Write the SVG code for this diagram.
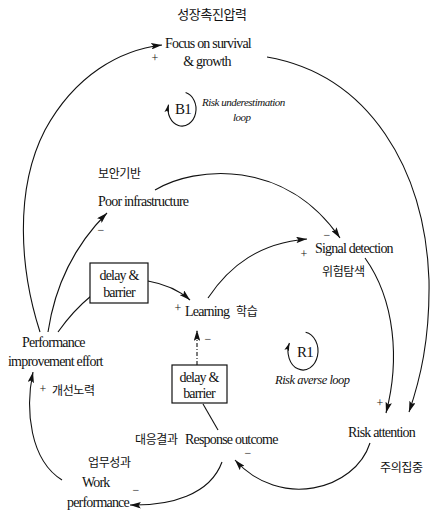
<svg xmlns="http://www.w3.org/2000/svg" width="430" height="510" viewBox="0 0 430 510">
  <defs>
    <marker id="arrow" viewBox="0 0 10 6" refX="10" refY="3" markerWidth="11" markerHeight="6.5" markerUnits="userSpaceOnUse" orient="auto">
      <path d="M0,0 L10,3 L0,6 L2,3 Z" fill="#111"/>
    </marker>
    <marker id="arrow-small" viewBox="0 0 10 6" refX="10" refY="3" markerWidth="8" markerHeight="5" markerUnits="userSpaceOnUse" orient="auto">
      <path d="M0,0 L10,3 L0,6 L2,3 Z" fill="#111"/>
    </marker>
  </defs>
  <style>
    text { fill: #111; }
    .en { font-family: "Liberation Serif", "Times New Roman", serif; font-size: 14px; letter-spacing: -0.8px; }
    .loop { font-family: "Liberation Serif", "Times New Roman", serif; font-style: italic; letter-spacing: -0.5px; }
    .ko { font-family: "Noto Sans CJK KR", "Noto Sans", sans-serif; font-size: 12px; letter-spacing: -0.4px; }
    .sign { font-family: "Liberation Serif", "Times New Roman", serif; font-size: 12px; }
    .mid { text-anchor: middle; }
    .link { fill: none; stroke: #111; stroke-width: 1.1; }
    .dashed { stroke-dasharray: 4 2 1 2; }
    .box { fill: #fff; stroke: #111; stroke-width: 1.2; }
  </style>

  <rect width="430" height="510" fill="#fff"/>

  <!-- causal links -->
  <g id="connectors">
    <!-- Performance improvement effort -> Focus on survival & growth -->
    <path class="link" d="M40,332 C20,270 14,190 45,130 C75,75 120,50 162,45" marker-end="url(#arrow)"/>
    <!-- Performance improvement effort -> Poor infrastructure -->
    <path class="link" d="M48,332 C55,285 75,245 107,213" marker-end="url(#arrow)"/>
    <!-- Performance improvement effort -> delay & barrier -->
    <path class="link" d="M58,332 C70,315 80,305 91,296"/>
    <!-- delay & barrier -> Learning -->
    <path class="link" d="M148,281 C165,284 180,291 190,300" marker-end="url(#arrow)"/>
    <!-- Learning -> Signal detection -->
    <path class="link" d="M208,298 C230,265 260,243 307,239" marker-end="url(#arrow)"/>
    <!-- Poor infrastructure -> Signal detection -->
    <path class="link" d="M155,190 C195,166 285,158 340,238" marker-end="url(#arrow)"/>
    <!-- Signal detection -> Risk attention -->
    <path class="link" d="M365,258 C395,300 400,360 386,413" marker-end="url(#arrow)"/>
    <!-- Focus on survival & growth -> Risk attention -->
    <path class="link" d="M267,57 C370,75 425,170 429,280 C430,340 420,380 409,412" marker-end="url(#arrow)"/>
    <!-- Risk attention -> Response outcome -->
    <path class="link" d="M370,443 C355,490 280,510 235,460" marker-end="url(#arrow)"/>
    <!-- Response outcome -> Work performance -->
    <path class="link" d="M222,462 C210,495 170,506 130,505" marker-end="url(#arrow)"/>
    <!-- Work performance -> Performance improvement effort -->
    <path class="link" d="M62,480 C30,460 25,410 33,372" marker-end="url(#arrow)"/>
    <!-- Response outcome -> delay & barrier -->
    <path class="link" d="M218,430 L203,404"/>
    <!-- delay & barrier -> Learning (dashed) -->
    <path class="link dashed" d="M197,365 L197,330" marker-end="url(#arrow)"/>

    <!-- polarity signs -->
    <text class="sign mid" x="155" y="62">+</text>
    <text class="sign mid" x="101" y="234">−</text>
    <text class="sign mid" x="304" y="258">+</text>
    <text class="sign mid" x="327" y="239">−</text>
    <text class="sign mid" x="178" y="312">+</text>
    <text class="sign mid" x="208" y="343">−</text>
    <text class="sign mid" x="380" y="407">+</text>
    <text class="sign mid" x="248" y="457">−</text>
    <text class="sign mid" x="136" y="494">−</text>
    <text class="sign mid" x="43" y="393">+</text>
  </g>

  <g id="focus">
    <text class="ko mid" x="212" y="19" style="font-size:13px">성장촉진압력</text>
    <text class="en" x="165" y="48">Focus on survival</text>
    <text class="en mid" x="207" y="66">&amp; growth</text>
  </g>

  <g id="loop-b1">
    <path class="link" d="M185.6,92.6 A14,17 0 1 1 168.5,104.6" marker-end="url(#arrow-small)"/>
    <text class="en mid" x="183" y="114" style="font-size:15px">B1</text>
    <text class="loop" x="202" y="106" style="font-size:11px">Risk underestimation</text>
    <text class="loop" x="233" y="121" style="font-size:11px">loop</text>
  </g>

  <g id="poor-infrastructure">
    <text class="ko" x="98" y="178">보안기반</text>
    <text class="en" x="98" y="206">Poor infrastructure</text>
  </g>

  <g id="signal-detection">
    <text class="en" x="315" y="253">Signal detection</text>
    <text class="ko" x="322" y="276">위험탐색</text>
  </g>

  <g id="delay-barrier-1">
    <rect class="box" x="90" y="263" width="58" height="40"/>
    <text class="en mid" x="119" y="280">delay &amp;</text>
    <text class="en mid" x="119" y="297">barrier</text>
  </g>

  <g id="learning">
    <text class="en" x="185" y="316">Learning</text>
    <text class="ko" x="236" y="316">학습</text>
  </g>

  <g id="delay-barrier-2">
    <rect class="box" x="172" y="365" width="55" height="38"/>
    <text class="en mid" x="199" y="382">delay &amp;</text>
    <text class="en mid" x="199" y="398">barrier</text>
  </g>

  <g id="loop-r1">
    <path class="link" d="M305.6,332.3 A15,19 0 1 1 289.4,343" marker-end="url(#arrow-small)"/>
    <text class="en mid" x="305" y="357" style="font-size:15px">R1</text>
    <text class="loop" x="275" y="384" style="font-size:12.5px">Risk averse loop</text>
  </g>

  <g id="risk-attention">
    <text class="en" x="348" y="437">Risk attention</text>
    <text class="ko" x="380" y="472">주의집중</text>
  </g>

  <g id="response-outcome">
    <text class="ko" x="135" y="444">대응결과</text>
    <text class="en" x="185" y="444">Response outcome</text>
  </g>

  <g id="performance-effort">
    <text class="en" x="22" y="347">Performance</text>
    <text class="en" x="8" y="366">improvement effort</text>
    <text class="ko" x="52" y="395">개선노력</text>
  </g>

  <g id="work-performance">
    <text class="ko" x="88" y="467">업무성과</text>
    <text class="en" x="82" y="487">Work</text>
    <text class="en" x="67" y="507">performance</text>
  </g>
</svg>
